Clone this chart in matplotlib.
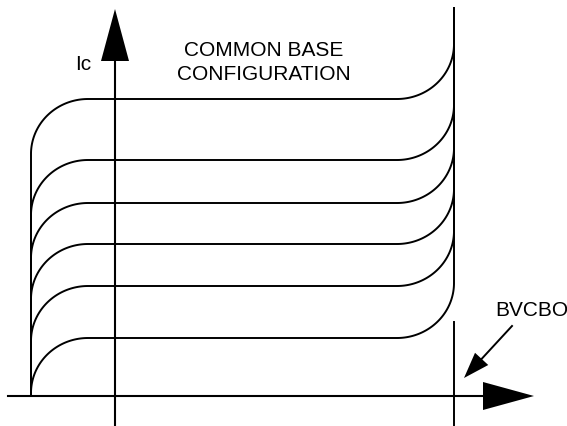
import numpy as np
import matplotlib
matplotlib.use("Agg")
import matplotlib.pyplot as plt

plt.rcParams['font.family'] = ['Liberation Sans', 'DejaVu Sans']

# Schematic data (arbitrary units; origin at the axis crossing)
ic_levels = [297, 236, 193, 152, 110, 58]   # saturation collector current of each curve
v_start = -84          # where the curves rise from zero
bvcbo = 339            # breakdown voltage
knee_w = 57            # width of the rounded knees
knee_h = 55            # height of the rounded knees
curve_top = 389        # top end of the breakdown line
x_axis = (-107, 419)   # horizontal axis extent (tail, tip)
y_axis = (-30, 387)    # vertical axis extent (tail, tip)
bv_tick = (-30, 74)    # BVCBO marker line extent
bv_arrow_from = (397, 70)
bv_arrow_to = (349, 18)

fig = plt.figure(figsize=(5.67, 4.26), dpi=100)
ax = fig.add_axes([0, 0, 1, 1])
ax.set_xlim(-115, 452)
ax.set_ylim(-30, 396)
ax.axis('off')

lw_c = 1.4
lw_a = 1.5
t = np.linspace(0, np.pi / 2, 60)
for L in ic_levels:
    ry = min(knee_h, L)
    # left knee
    cxl, cyl = v_start + knee_w, L - ry
    xl = cxl - knee_w * np.cos(t)
    yl = cyl + ry * np.sin(t)
    # right knee
    cxr, cyr = bvcbo - knee_w, L + knee_h
    xr = cxr + knee_w * np.sin(t)
    yr = cyr - knee_h * np.cos(t)
    xs = np.concatenate([[v_start], xl, xr, [bvcbo]])
    ys = np.concatenate([[0], yl, yr, [curve_top]])
    ax.plot(xs, ys, color='black', lw=lw_c, solid_capstyle='butt', solid_joinstyle='round')

# axes with arrow heads
head_len, head_half = 51, 14
ax.plot([x_axis[0], x_axis[1] - head_len], [0, 0], color='black', lw=lw_a)
ax.fill([x_axis[1], x_axis[1] - head_len, x_axis[1] - head_len],
        [0, head_half, -head_half], color='black', lw=0)
ax.plot([0, 0], [y_axis[0], y_axis[1] - 52], color='black', lw=lw_a)
ax.fill([0, -head_half, head_half], [y_axis[1], y_axis[1] - 52, y_axis[1] - 52],
        color='black', lw=0)

# BVCBO marker
ax.plot([bvcbo, bvcbo], bv_tick, color='black', lw=lw_c)
(x1, y1), (x2, y2) = bv_arrow_from, bv_arrow_to
d = np.array([x2 - x1, y2 - y1], float)
d /= np.hypot(*d)
n = np.array([-d[1], d[0]])
hl, hw = 26, 9
base = np.array([x2, y2]) - d * hl
ax.plot([x1, base[0]], [y1, base[1]], color='black', lw=lw_c)
tri = np.array([[x2, y2], base + n * hw, base - n * hw])
ax.fill(tri[:, 0], tri[:, 1], color='black', lw=0)

fs = 15
ax.text(-40, 326, 'Ic', fontsize=fs, ha='left', va='baseline')
ax.text(149, 340, 'COMMON BASE', fontsize=fs, ha='center', va='baseline')
ax.text(149, 316, 'CONFIGURATION', fontsize=fs, ha='center', va='baseline')
ax.text(380, 80, 'BVCBO', fontsize=fs, ha='left', va='baseline')

fig.savefig('out.png', dpi=100)
